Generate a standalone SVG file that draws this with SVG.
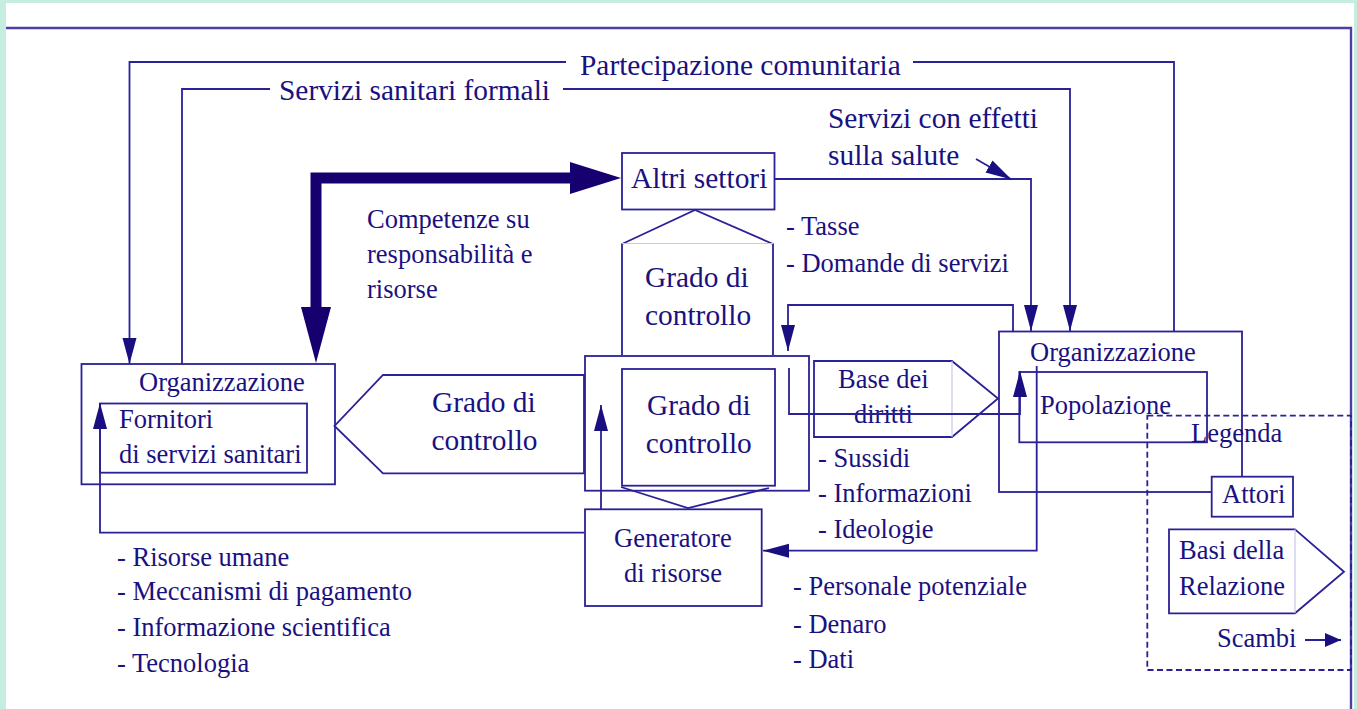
<svg xmlns="http://www.w3.org/2000/svg" width="1357" height="709" viewBox="0 0 1357 709">
<style>
.ln{fill:none;stroke:#2a2196;stroke-width:1.8}
.bx{fill:#fff;stroke:#2a2196;stroke-width:1.8}
.fa{fill:none;stroke:#c9c5ec;stroke-width:1.2}
.t1{font-family:"Liberation Serif","Times New Roman",serif;font-size:29.4px;fill:#1a1180}
.t2{font-family:"Liberation Serif","Times New Roman",serif;font-size:26.5px;fill:#1a1180}
</style>
<defs>
<marker id="ah" markerUnits="userSpaceOnUse" markerWidth="28" markerHeight="16" refX="26" refY="7" orient="auto"><path d="M0,0 L26,7 L0,14 z" fill="#1a0f80"/></marker>
<marker id="ahs" markerUnits="userSpaceOnUse" markerWidth="18" markerHeight="16" refX="16" refY="7" orient="auto"><path d="M0,0 L16,7 L0,14 z" fill="#1a0f80"/></marker>
</defs>
<rect x="0" y="0" width="1357" height="709" fill="#c5ede0"/>
<rect x="6" y="3" width="1348" height="706" fill="#fff"/>
<g id="frame">
<path d="M6,28 H1351 V709" fill="none" stroke="#4a40a8" stroke-width="2.4"/>
</g>
<g id="text-labels">
<text class="t1" x="580" y="75">Partecipazione comunitaria</text>
<text class="t1" x="279" y="100">Servizi sanitari formali</text>
<text class="t1" x="828" y="128">Servizi con effetti</text>
<text class="t1" x="828" y="165">sulla salute</text>
<text class="t2" x="367" y="228">Competenze su</text>
<text class="t2" x="367" y="263">responsabilità e</text>
<text class="t2" x="367" y="298">risorse</text>
<text class="t2" x="786" y="235">- Tasse</text>
<text class="t2" x="786" y="272">- Domande di servizi</text>
<text class="t2" x="818" y="466.7">- Sussidi</text>
<text class="t2" x="818" y="502">- Informazioni</text>
<text class="t2" x="818" y="538">- Ideologie</text>
<text class="t2" x="793" y="595">- Personale potenziale</text>
<text class="t2" x="793" y="633">- Denaro</text>
<text class="t2" x="793" y="668">- Dati</text>
<text class="t2" x="117" y="566">- Risorse umane</text>
<text class="t2" x="117" y="600">- Meccanismi di pagamento</text>
<text class="t2" x="117" y="636">- Informazione scientifica</text>
<text class="t2" x="117" y="671.7">- Tecnologia</text>
</g>
<g id="altri-settori">
<rect class="bx" x="622" y="153" width="152.5" height="56.5"/>
<text class="t1" x="631" y="188">Altri settori</text>
</g>
<g id="grado-controllo-alto">
<polyline class="ln" points="622,355 622,244 695,210 773,244 773,355"/>
<line class="fa" x1="622" y1="243.5" x2="773" y2="243.5"/>
<text class="t1" x="645" y="287">Grado di</text>
<text class="t1" x="645" y="325">controllo</text>
</g>
<g id="org-fornitori">
<rect class="bx" x="81.5" y="364" width="253.5" height="120.3"/>
<text class="t2" x="139" y="390.7">Organizzazione</text>
<rect class="bx" x="100" y="403.5" width="207" height="69.2"/>
<text class="t2" x="119" y="428.3">Fornitori</text>
<text class="t2" x="119" y="463.3">di servizi sanitari</text>
</g>
<g id="grado-controllo-sinistra">
<polygon class="bx" points="584,375 383,375 334.5,426 383,473.3 584,473.3"/>
<text class="t1" x="432" y="411.7">Grado di</text>
<text class="t1" x="431.4" y="450">controllo</text>
</g>
<g id="grado-controllo-centro">
<rect class="bx" x="585" y="356" width="224" height="134.7"/>
<rect class="bx" x="622" y="369" width="153" height="116.7"/>
<polyline class="ln" points="621,487 688,508 769,488"/>
<text class="t1" x="647" y="415">Grado di</text>
<text class="t1" x="645.7" y="453">controllo</text>
</g>
<g id="generatore">
<rect class="bx" x="585" y="509.3" width="176.7" height="96.7"/>
<text class="t2" x="614" y="546.7">Generatore</text>
<text class="t2" x="624" y="581.7">di risorse</text>
</g>
<g id="base-diritti">
<polygon class="ln" points="814,361 952,361 998,398.5 952,437 814,437"/>
<line class="fa" x1="952" y1="361" x2="952" y2="437"/>
<text class="t2" x="838" y="388">Base dei</text>
<text class="t2" x="854" y="423">diritti</text>
</g>
<g id="org-popolazione">
<rect class="ln" x="999" y="331.5" width="243" height="160.5"/>
<text class="t2" x="1030" y="360.7">Organizzazione</text>
<rect class="ln" x="1019.3" y="372" width="187.7" height="70.3"/>
<text class="t2" x="1040" y="414">Popolazione</text>
</g>
<g id="legenda">
<rect x="1147.3" y="415.7" width="203.7" height="254.3" fill="none" stroke="#2a2196" stroke-width="1.8" stroke-dasharray="6,3.5"/>
<text class="t2" x="1191" y="441.7">Legenda</text>
<rect class="bx" x="1211.7" y="476.7" width="81.3" height="40"/>
<text class="t2" x="1222" y="503">Attori</text>
<polygon class="ln" points="1169,529.3 1295,529.3 1344,571.7 1295,613.3 1169,613.3"/>
<line class="fa" x1="1295" y1="529.3" x2="1295" y2="613.3"/>
<text class="t2" x="1179" y="559.3">Basi della</text>
<text class="t2" x="1179" y="595">Relazione</text>
<text class="t2" x="1217" y="646.7">Scambi</text>
<path class="ln" d="M1305,640 H1341" marker-end="url(#ahs)"/>
</g>
<g id="connectors">
<path class="ln" d="M1174,331 V62 H913"/>
<path class="ln" d="M566,62 H129.5 V364" marker-end="url(#ah)"/>
<path class="ln" d="M182,364 V89 H270"/>
<path class="ln" d="M563,89 H1070 V331" marker-end="url(#ah)"/>
<path d="M316,308 V178 H572" fill="none" stroke="#16006f" stroke-width="11" stroke-linejoin="miter"/>
<polygon points="570,162 621,178 570,194" fill="#16006f"/>
<polygon points="301,307 316,363 331,307" fill="#16006f"/>
<path class="ln" d="M774.5,179 H1031 V331" marker-end="url(#ah)"/>
<path class="ln" d="M976,159 L1011.5,179.5" marker-end="url(#ah)"/>
<path class="ln" d="M1013,331.5 V305 H788 V351" marker-end="url(#ah)"/>
<path class="ln" d="M789,368 V414 H1020 V371" marker-end="url(#ah)"/>
<path class="ln" d="M1036.7,366 V550.7 H763" marker-end="url(#ah)"/>
<path class="ln" d="M601,509 V405" marker-end="url(#ah)"/>
<path class="ln" d="M584,532.7 H100 V403" marker-end="url(#ah)"/>
</g>
</svg>
